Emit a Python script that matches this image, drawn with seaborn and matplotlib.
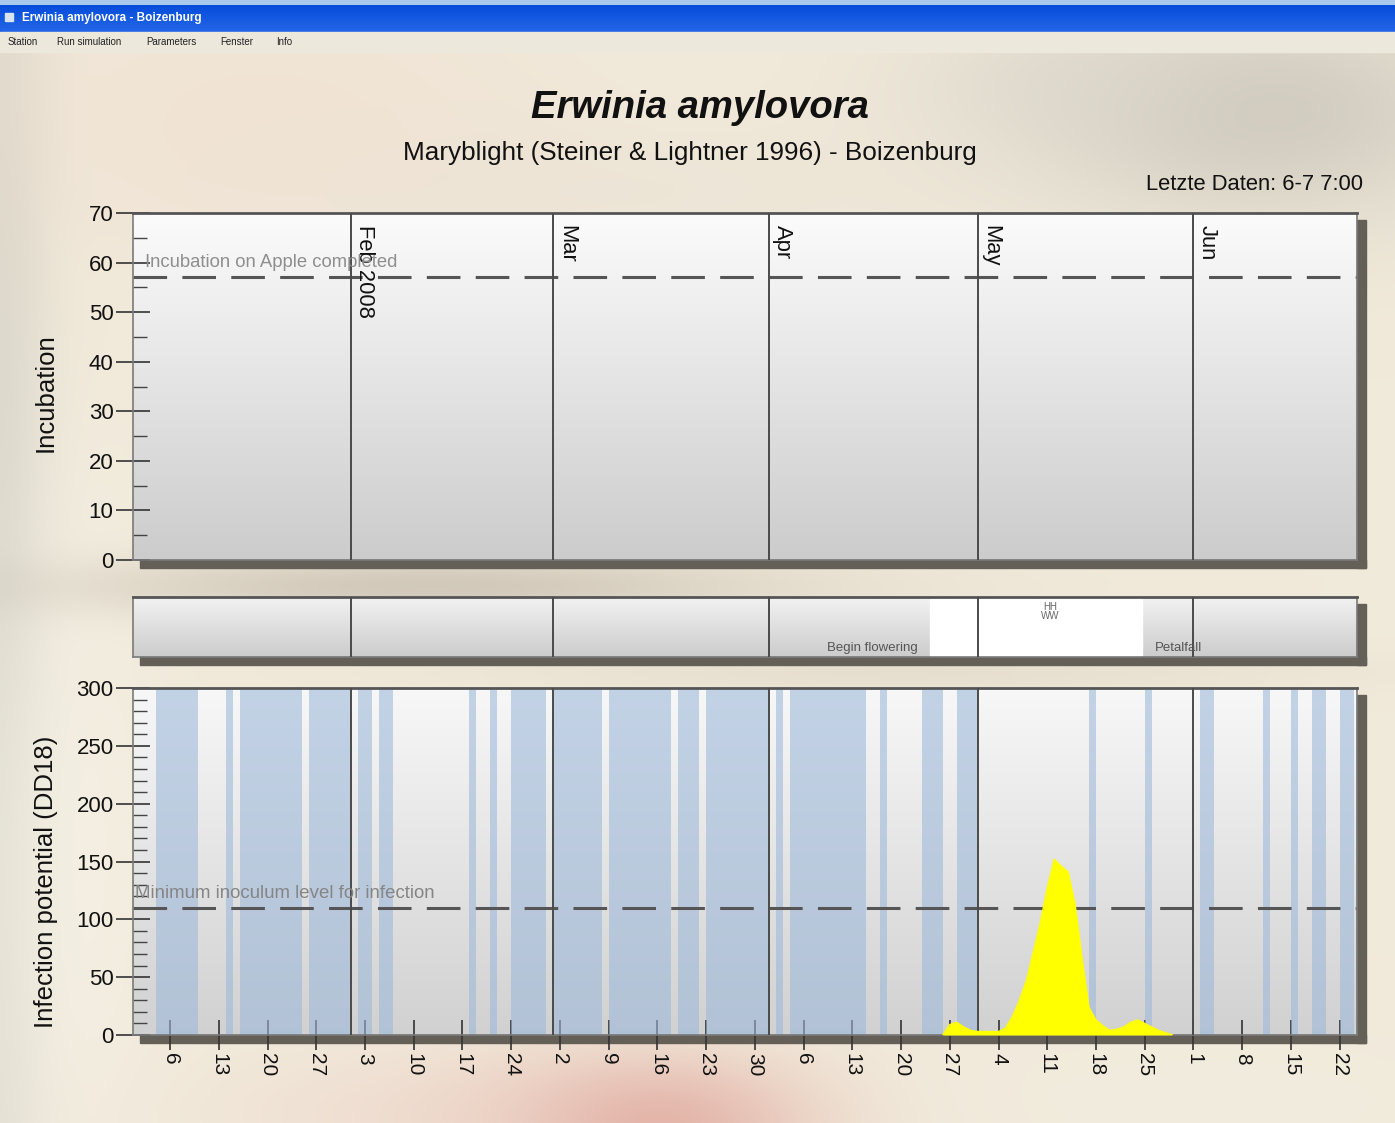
import numpy as np
import pandas as pd
import matplotlib
matplotlib.use("Agg")
import matplotlib.pyplot as plt
import matplotlib.dates as mdates
import matplotlib.ticker as mticker
from matplotlib.patches import Rectangle
import seaborn as sns

# ---------------- data ----------------
month_starts = ["2008-02-01", "2008-03-01", "2008-04-01", "2008-05-01", "2008-06-01"]
month_labels = ["Feb 2008", "Mar", "Apr", "May", "Jun"]

# days with (blue) wetness bands: start date and number of days
wet_starts = ["2008-01-04", "2008-01-14", "2008-01-16", "2008-01-26", "2008-02-02",
              "2008-02-05", "2008-02-18", "2008-02-21", "2008-02-24", "2008-03-01",
              "2008-03-09", "2008-03-19", "2008-03-23", "2008-04-02", "2008-04-04",
              "2008-04-17", "2008-04-23", "2008-04-28", "2008-05-17", "2008-05-25",
              "2008-06-02", "2008-06-11", "2008-06-15", "2008-06-18", "2008-06-22"]
wet_days = [6, 1, 9, 6, 2, 2, 1, 1, 5, 7, 9, 3, 9, 1, 11, 1, 3, 3, 1, 1, 2, 1, 1, 2, 2]

# infection potential (DD18), daily from 2008-04-26
infection_start = "2008-04-26"
infection_potential = [0, 9, 11, 7, 4, 3, 3, 3, 3, 6, 16, 30, 47, 72, 97, 127, 152, 146,
                       141, 113, 66, 24, 13, 8, 4, 5, 7, 11, 13, 10, 7, 4, 2, 0]

incubation_threshold = 57
infection_threshold = 110
begin_flowering = "2008-04-24 05:00"
petal_fall = "2008-05-24 16:00"
x_start, x_end = "2007-12-31 16:00", "2008-06-24 12:00"

title = "Erwinia amylovora"
subtitle = "Maryblight (Steiner & Lightner 1996) - Boizenburg"
last_data = "Letzte Daten: 6-7 7:00"
window_title = "Erwinia amylovora - Boizenburg"
menu_items = ["Station", "Run simulation", "Parameters", "Fenster", "Info"]

# ---------------- figure ----------------
sns.set_theme(style="white")
plt.rcParams['font.family'] = ['Liberation Sans', 'DejaVu Sans']

W, H = 1395, 1123
fig = plt.figure(figsize=(W / 100, H / 100), dpi=100)

def fx(x):
    return x / W

def fy(y):
    return 1 - y / H

# background "photo"-like wash
bg = fig.add_axes([0, 0, 1, 1], zorder=-10)
bg.set_axis_off()
yy, xx = np.mgrid[0:H:4, 0:W:4].astype(float)
img = np.ones(xx.shape + (3,)) * np.array([0.945, 0.918, 0.858])

def blob(cx, cy, sx, sy, col, strength):
    w = strength * np.exp(-(((xx - cx) / sx) ** 2 + ((yy - cy) / sy) ** 2) / 2)
    img[:] = img * (1 - w[..., None]) + np.array(col) * w[..., None]

blob(0, 560, 35, 700, (0.84, 0.83, 0.78), 0.85)
blob(60, 850, 70, 260, (0.965, 0.95, 0.91), 0.6)
blob(1260, 110, 170, 80, (0.78, 0.76, 0.72), 0.75)
blob(1060, 80, 110, 50, (0.86, 0.84, 0.80), 0.5)
blob(260, 120, 220, 110, (0.94, 0.86, 0.80), 0.45)
blob(620, 190, 220, 50, (0.90, 0.87, 0.82), 0.35)
blob(430, 585, 260, 22, (0.72, 0.68, 0.62), 0.55)
blob(900, 672, 300, 14, (0.84, 0.80, 0.74), 0.4)
blob(650, 1125, 120, 50, (0.86, 0.58, 0.54), 0.7)
blob(430, 1112, 150, 45, (0.93, 0.82, 0.78), 0.45)
blob(1200, 1100, 250, 60, (0.95, 0.93, 0.88), 0.5)
bg.imshow(np.clip(img, 0, 1), extent=[0, W, H, 0], aspect='auto', interpolation='bicubic', zorder=0)

# window title bar and menu
bg.add_patch(Rectangle((0, 0), W, 5, color='#a8c8ec', zorder=2))
tb = np.linspace(0, 1, 64)[:, None]
tbimg = np.dstack([0.02 + 0.12 * tb, 0.30 + 0.10 * tb, 0.86 + 0.04 * tb]) * np.ones((1, 2, 1))
bg.imshow(tbimg, extent=[0, W, 32, 5], aspect='auto', zorder=2)
bg.add_patch(Rectangle((5, 13), 8, 8, color='#d8e4f0', zorder=3))
bg.text(22, 18.5, window_title, color='white', fontsize=8.5, fontweight='bold',
        va='center', ha='left', zorder=4)
bg.add_patch(Rectangle((0, 32), W, 20, color='#ece8dc', zorder=2))
for xm, item in zip([8, 57, 146, 220, 276], menu_items):
    bg.text(xm, 42, item, fontsize=7, color='#222222', va='center', ha='left', zorder=4)

# titles
bg.text(700, 108, title, fontsize=27.5, fontweight='bold', fontstyle='italic',
        ha='center', va='center', color='#111111', zorder=4)
bg.text(690, 153, subtitle, fontsize=18.8, ha='center', va='center', color='#111111', zorder=4)
bg.text(1363, 184, last_data, fontsize=15.8, ha='right', va='center', color='#111111', zorder=4)

# panel geometry (pixels)
L, R = 133, 1357
panels = [(213, 560), (597, 657), (688, 1035)]
grads = [(0.985, 0.80), (0.95, 0.80), (0.97, 0.82)]
shadow = '#646058'
for (top, bot), (gt, gb) in zip(panels, grads):
    g = np.linspace(gt, gb, 128)[:, None, None] * np.ones((1, 2, 3))
    bg.imshow(g, extent=[L, R, bot, top], aspect='auto', zorder=3)
    bg.add_patch(Rectangle((R, top + 7), 9, bot - top + 1, color=shadow, zorder=3))
    bg.add_patch(Rectangle((L + 7, bot), R - L + 2, 8, color=shadow, zorder=3))
bg.set_xlim(0, W)
bg.set_ylim(H, 0)

# y axis labels
bg.text(46, 393, "Incubation", rotation=90, fontsize=18.5, ha='center', va='center',
        color='#111111', zorder=4)
bg.text(46, 882, "Infection potential (DD18)", rotation=90, fontsize=18.5,
        ha='center', va='center', color='#111111', zorder=4)

def make_ax(top, bot):
    ax = fig.add_axes([fx(L), fy(bot), (R - L) / W, (bot - top) / H])
    ax.set_facecolor('none')
    for s in ax.spines.values():
        s.set_color('#7a7a7a')
        s.set_linewidth(1.2)
    ax.spines['top'].set_color('#555555')
    ax.spines['top'].set_linewidth(2)
    return ax

xs = pd.Timestamp(x_start)
xe = pd.Timestamp(x_end)
mstarts = pd.to_datetime(month_starts)

ax1 = make_ax(*panels[0])
ax2 = make_ax(*panels[1])
ax3 = make_ax(*panels[2])

# ---- top panel: incubation ----
ax1.axhline(incubation_threshold, color='#555555', lw=2.2, ls=(0, (11, 5)), zorder=2)
for m, lab in zip(mstarts, month_labels):
    ax1.axvline(m, color='#4a4a4a', lw=1.4, zorder=3)
    ax1.annotate(lab, xy=(m, 1), xycoords=('data', 'axes fraction'), xytext=(2, -9),
                 textcoords='offset points', rotation=270, ha='left', va='top',
                 fontsize=15.8, color='#111111')
ax1.text(0.0098, 60, "Incubation on Apple completed", transform=ax1.get_yaxis_transform(),
         fontsize=13.3, color='#8e8e8e', va='center', ha='left', zorder=4)
ax1.set_xlim(xs, xe)
ax1.set_ylim(0, 70)
ax1.set_xticks([])
ax1.yaxis.set_major_locator(mticker.MultipleLocator(10))
ax1.yaxis.set_minor_locator(mticker.MultipleLocator(5))

# ---- middle strip: phenology ----
ax2.axvspan(pd.Timestamp(begin_flowering), pd.Timestamp(petal_fall), color='white', zorder=1)
for m in mstarts:
    ax2.axvline(m, color='#4a4a4a', lw=1.4, zorder=3)
ax2.annotate("Begin flowering", xy=(pd.Timestamp(begin_flowering), 0.15),
             xycoords=('data', 'axes fraction'), xytext=(-9, 0), textcoords='offset points',
             ha='right', va='center', fontsize=9.5, color='#555555')
ax2.annotate("Petalfall", xy=(pd.Timestamp(petal_fall), 0.15),
             xycoords=('data', 'axes fraction'), xytext=(9, 0), textcoords='offset points',
             ha='left', va='center', fontsize=9.5, color='#555555')
ax2.annotate("HH\nWW", xy=(pd.Timestamp("2008-05-11 10:00"), 0.92),
             xycoords=('data', 'axes fraction'), ha='center', va='top', fontsize=7,
             color='#666666', linespacing=0.9)
ax2.set_xlim(xs, xe)
ax2.set_ylim(0, 1)
ax2.set_xticks([])
ax2.set_yticks([])

# ---- bottom panel: infection potential ----
ax3.bar(pd.to_datetime(wet_starts), [300] * len(wet_starts), width=wet_days, align='edge',
        color='#9db8da', alpha=0.58, linewidth=0, zorder=1)
for m in mstarts:
    ax3.axvline(m, color='#4a4a4a', lw=1.4, zorder=3)
inf_dates = pd.date_range(infection_start, periods=len(infection_potential), freq='D')
inf_df = pd.DataFrame({"date": inf_dates, "potential": infection_potential})
ax3.fill_between(inf_df["date"], 0, inf_df["potential"], color='#ffff00', lw=0, zorder=4)
sns.lineplot(data=inf_df, x="date", y="potential", color='#ffff00', lw=1, ax=ax3, zorder=4)
ax3.axhline(infection_threshold, color='#555555', lw=2.2, ls=(0, (11, 5)), zorder=2)
ax3.text(0.0016, 122.7, "Minimum inoculum level for infection", transform=ax3.get_yaxis_transform(),
         fontsize=13.4, color='#858585', va='center', ha='left', zorder=5)
ax3.set_xlim(xs, xe)
ax3.set_ylim(0, 300)
ax3.set_xlabel("")
ax3.set_ylabel("")
ax3.yaxis.set_major_locator(mticker.MultipleLocator(50))
ax3.yaxis.set_minor_locator(mticker.MultipleLocator(10))
ax3.xaxis.set_major_locator(mdates.WeekdayLocator(byweekday=mdates.SU))
ax3.xaxis.set_major_formatter(mticker.FuncFormatter(lambda v, p: str(mdates.num2date(v).day)))
ax3.tick_params(axis='x', which='major', direction='inout', length=22, width=1.2,
                color='#333333', labelsize=15, labelrotation=270, pad=2, labelcolor='#111111',
                bottom=True)

for ax in (ax1, ax3):
    ax.tick_params(axis='y', which='major', direction='inout', length=24, width=1.2,
                   color='#333333', labelsize=16, pad=2, labelcolor='#111111', left=True)
    ax.tick_params(axis='y', which='minor', direction='in', length=10, width=1.0,
                   color='#444444', left=True)
ax1.set_ylabel("")
ax3.set_ylabel("")

fig.savefig("out.png", dpi=100)
